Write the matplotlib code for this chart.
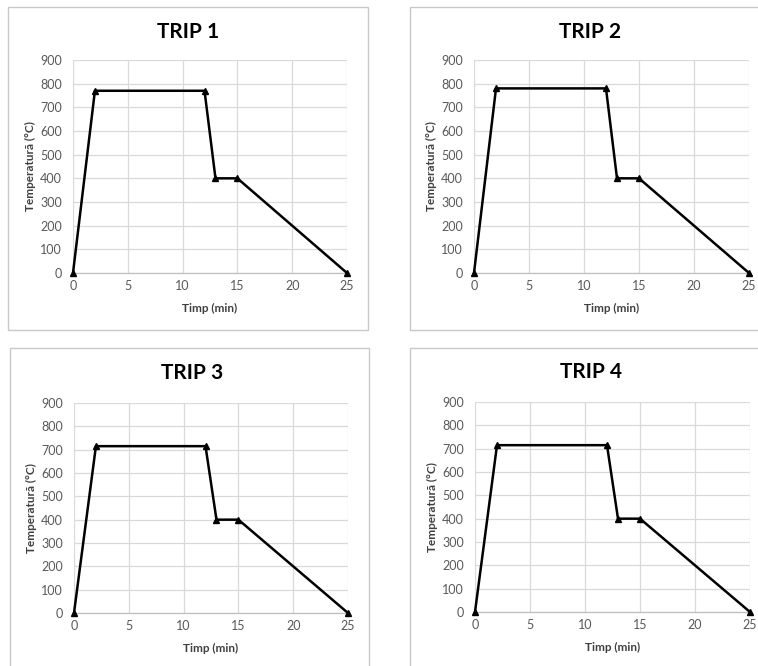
import matplotlib
matplotlib.use("Agg")
import matplotlib.pyplot as plt
from matplotlib.patches import Rectangle

plt.rcParams['font.family'] = ['Lato', 'DejaVu Sans']

time_min = [0, 2, 12, 13, 15, 25]
trip1 = [0, 770, 770, 400, 400, 0]
trip2 = [0, 780, 780, 400, 400, 0]
trip3 = [0, 715, 715, 400, 400, 0]
trip4 = [0, 715, 715, 400, 400, 0]
titles = ["TRIP 1", "TRIP 2", "TRIP 3", "TRIP 4"]
series = [trip1, trip2, trip3, trip4]
x_ticks = [0, 5, 10, 15, 20, 25]
y_ticks = [0, 100, 200, 300, 400, 500, 600, 700, 800, 900]

W, H = 758, 666
fig = plt.figure(figsize=(W / 100, H / 100), dpi=100)
fig.patch.set_facecolor('white')

borders = [(8, 7, 368, 330), (410, 7, 770, 330), (10, 348, 369, 680), (410, 348, 770, 680)]
plots = [(73, 60, 347, 273), (474, 60, 749, 273), (74, 403, 348, 613), (475, 402, 750, 612)]
title_pos = [(188, 32), (590, 32), (192, 373), (591, 372)]

def fx(px):
    return px / W

def fy(py):
    return 1 - py / H

for b in borders:
    x0, y0, x1, y1 = b
    fig.patches.append(Rectangle((fx(x0), fy(y1)), fx(x1) - fx(x0), fy(y0) - fy(y1),
                                 transform=fig.transFigure, fill=False,
                                 edgecolor='#c8c8c8', linewidth=1.0, zorder=0))

for i, p in enumerate(plots):
    x0, yt, x1, yb = p
    ax = fig.add_axes([fx(x0), fy(yb), fx(x1) - fx(x0), fy(yt) - fy(yb)])
    ax.set_xlim(0, 25)
    ax.set_ylim(0, 900)
    ax.set_xticks(x_ticks)
    ax.set_yticks(y_ticks)
    ax.grid(True, color='#d9d9d9', linewidth=0.9)
    ax.set_axisbelow(True)
    for s in ['top', 'right', 'left']:
        ax.spines[s].set_visible(False)
    ax.spines['bottom'].set_color('#bfbfbf')
    ax.spines['bottom'].set_linewidth(0.9)
    ax.tick_params(length=0, labelsize=9, labelcolor='#595959')
    ax.tick_params(axis='y', pad=8)
    ax.tick_params(axis='x', pad=5)
    ax.plot(time_min, series[i], color='black', linewidth=1.8, marker='^',
            markersize=5, clip_on=False, zorder=3)
    ax.set_xlabel("Timp (min)", fontsize=8.5, fontweight='bold', color='#404040', labelpad=8)
    ax.set_ylabel("Temperatură (°C)", fontsize=8.5, fontweight='bold', color='#404040', labelpad=3)
    tx, ty = title_pos[i]
    fig.text(fx(tx), fy(ty), titles[i], ha='center', va='center',
             fontsize=15, fontweight='bold', color='black')

fig.savefig("out.png", dpi=100, facecolor='white')
